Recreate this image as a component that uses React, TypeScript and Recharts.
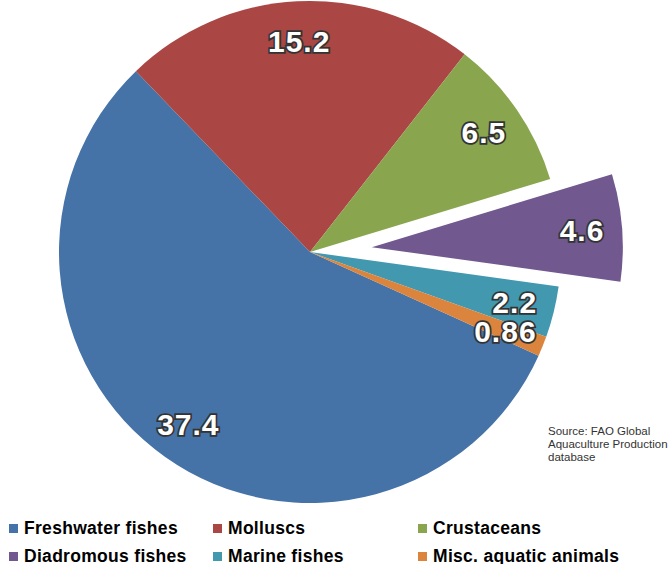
import React from 'react'
import { PieChart, Pie, Cell } from 'recharts'

const categories = ['Freshwater fishes', 'Molluscs', 'Crustaceans', 'Diadromous fishes', 'Marine fishes', 'Misc. aquatic animals']
const values = [37.4, 15.2, 6.5, 4.6, 2.2, 0.86]
const valueLabels = ['37.4', '15.2', '6.5', '4.6', '2.2', '0.86']
const colors = ['#4572A7', '#AA4643', '#89A54E', '#71588F', '#4198AF', '#DB843D']
const sourceLines = ['Source: FAO Global', 'Aquaculture Production', 'database']

const EXPLODED = 3
const START = 335.6
const CX = 310
const CY = 252
const R = 251
const EXPLODE_DIST = 62

const data = categories.map((name, i) => ({ name, value: values[i], label: valueLabels[i] }))

// centre of the pulled-out slice, along its mid angle
const total = values.reduce((a, b) => a + b, 0)
const before = values.slice(0, EXPLODED).reduce((a, b) => a + b, 0)
const midDeg = START - (360 * (before + values[EXPLODED] / 2)) / total
const ex = CX + EXPLODE_DIST * Math.cos((midDeg * Math.PI) / 180)
const ey = CY - EXPLODE_DIST * Math.sin((midDeg * Math.PI) / 180)

const font = 'Arial, "Liberation Sans", sans-serif'

const renderLabel = (onlyIndex: number | null) => (props: any) => {
  const { cx, cy, midAngle, outerRadius, index } = props
  if (onlyIndex === null ? index === EXPLODED : index !== onlyIndex) return null
  const rad = Math.PI / 180
  const r = outerRadius * 0.84
  const x = cx + r * Math.cos(-midAngle * rad)
  const y = cy + r * Math.sin(-midAngle * rad)
  return (
    <text
      x={x}
      y={y}
      textAnchor="middle"
      dominantBaseline="central"
      fill="#fff"
      stroke="#333"
      strokeWidth={3.5}
      style={{ paintOrder: 'stroke', fontFamily: font, fontWeight: 'bold', fontSize: 30, letterSpacing: 1 }}
    >
      {data[index].label}
    </text>
  )
}

export default function App() {
  return (
    <div style={{ position: 'absolute', left: 0, top: 0, width: 669, height: 564, background: '#fff' }}>
      <PieChart width={669} height={510} margin={{ top: 0, right: 0, bottom: 0, left: 0 }}>
        <Pie
          data={data}
          dataKey="value"
          cx={CX}
          cy={CY}
          outerRadius={R}
          startAngle={START}
          endAngle={START - 360}
          stroke="none"
          label={renderLabel(null)}
          labelLine={false}
          isAnimationActive={false}
        >
          {data.map((d, i) => (
            <Cell key={d.name} fill={i === EXPLODED ? 'none' : colors[i]} />
          ))}
        </Pie>
        <Pie
          data={data}
          dataKey="value"
          cx={ex}
          cy={ey}
          outerRadius={R}
          startAngle={START}
          endAngle={START - 360}
          stroke="none"
          label={renderLabel(EXPLODED)}
          labelLine={false}
          isAnimationActive={false}
        >
          {data.map((d, i) => (
            <Cell key={d.name} fill={i === EXPLODED ? colors[i] : 'none'} />
          ))}
        </Pie>
      </PieChart>

      <div style={{ position: 'absolute', left: 548, top: 425, fontFamily: font, fontSize: 11.5, lineHeight: '13px', color: '#333', whiteSpace: 'nowrap' }}>
        {sourceLines.map(l => (
          <div key={l}>{l}</div>
        ))}
      </div>

      {categories.map((name, i) => {
        const col = i % 3
        const row = Math.floor(i / 3)
        const left = [9, 213, 418][col]
        const top = 518 + row * 28
        return (
          <div
            key={name}
            style={{
              position: 'absolute',
              left,
              top,
              display: 'flex',
              alignItems: 'center',
              fontFamily: font,
              fontWeight: 'bold',
              fontSize: 17.5,
              letterSpacing: 0.3,
              color: '#000',
              whiteSpace: 'nowrap',
              height: 20,
            }}
          >
            <span style={{ display: 'inline-block', width: 9, height: 9, background: colors[i], marginRight: 6 }} />
            {name}
          </div>
        )
      })}
    </div>
  )
}
